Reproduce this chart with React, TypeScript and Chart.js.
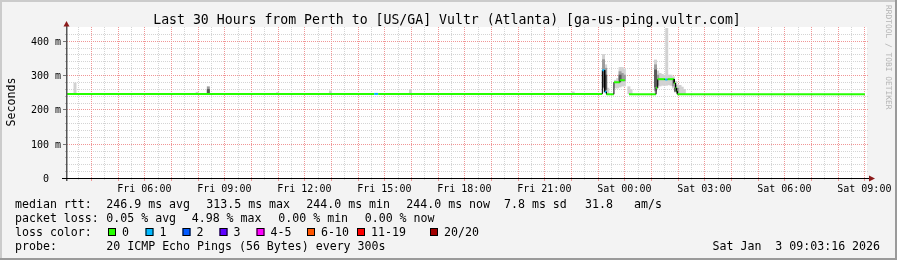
import React, { useEffect, useRef } from 'react';
import { Chart, registerables } from 'chart.js';

Chart.register(...registerables);

const FONT = '"DejaVu Sans Mono", "Liberation Mono", monospace';

const TITLE = 'Last 30 Hours from Perth to [US/GA] Vultr (Atlanta) [ga-us-ping.vultr.com]';
const Y_TITLE = 'Seconds';
const SIDE_TEXT = 'RRDTOOL / TOBI OETIKER';
const TIMESTAMP = 'Sat Jan  3 09:03:16 2026';

// time axis in hours since Fri 00:00
const X_START = 3.1;
const X_END = 33.1;
const Y_MIN = 0;
const Y_MAX = 440;

const xLabelHours = [6, 9, 12, 15, 18, 21, 24, 27, 30, 33];
const xLabelTexts = ['Fri 06:00', 'Fri 09:00', 'Fri 12:00', 'Fri 15:00', 'Fri 18:00', 'Fri 21:00', 'Sat 00:00', 'Sat 03:00', 'Sat 06:00', 'Sat 09:00'];
const yTickValues = [0, 20, 40, 60, 80, 100, 120, 140, 160, 180, 200, 220, 240, 260, 280, 300, 320, 340, 360, 380, 400, 420, 440];
const yLabelValues = [0, 100, 200, 300, 400];
const yLabelTexts = ['0  ', '100 m', '200 m', '300 m', '400 m'];

// median RTT (ms) as steps: each step lasts until the next start
const medianStart = [3.10, 14.62, 14.77, 23.175, 23.265, 23.33, 23.61, 23.84, 24.02, 24.175, 25.19, 25.25, 25.53, 25.62, 25.87, 25.92, 25.96, 25.99];
const medianValue: (number | null)[] = [245, 245, 245, 314, 251, 244, 279, 285, null, 244, 263, 288, 287, 288, 276, 262, 252, 244];
const medianLoss = [0, 1, 0, 1, 1, 0, 0, 0, 0, 0, 0, 0, 1, 0, 0, 0, 0, 0];
const medianEnd = 33.02;

// smoke (ping spread) in three shades
const lightT = [3.40, 7.98, 11.00, 12.98, 15.98, 22.08, 23.22, 23.30, 23.38, 23.67, 23.75, 23.84, 23.92, 24.00, 24.17, 24.25, 25.17, 25.25, 25.34, 25.42, 25.50, 25.59, 25.67, 25.75, 25.84, 25.92, 26.00, 26.09, 26.17, 26.25];
const lightLo = [246, 246, 246, 246, 246, 246, 250, 248, 244, 262, 262, 265, 268, 268, 245, 245, 250, 262, 268, 270, 270, 270, 272, 270, 262, 250, 246, 246, 246, 246];
const lightHi = [277, 250, 249, 254, 258, 251, 360, 330, 262, 285, 290, 322, 322, 318, 266, 258, 344, 312, 305, 302, 300, 436, 300, 300, 295, 282, 272, 270, 265, 258];

const midT = [8.40, 23.22, 23.30, 23.84, 23.92, 24.00, 25.17, 25.25, 25.84, 25.92, 26.00];
const midLo = [246, 262, 255, 280, 283, 283, 255, 270, 268, 252, 248];
const midHi = [266, 345, 320, 310, 305, 300, 330, 300, 285, 270, 262];

const darkT = [8.40, 23.22, 23.30, 23.84, 25.17, 25.92];
const darkLo = [246, 265, 258, 285, 265, 253];
const darkHi = [258, 314, 300, 300, 315, 262];

const lossColors = ['#26ff00', '#00b8ff', '#0059ff', '#5e00ff', '#ff00ff', '#ff5500', '#ff0000', '#a10000'];
const lossLabels = ['0', '1', '2', '3', '4-5', '6-10', '11-19', '20/20'];

const legendRow1: [string, number][] = [['median rtt:', 15], ['246.9 ms avg', 106.3], ['313.5 ms max', 206.3], ['244.0 ms min', 306.3], ['244.0 ms now', 406.3], ['7.8 ms sd', 504], ['31.8', 585], ['am/s', 634]];
const legendRow2: [string, number][] = [['packet loss:', 15], ['0.05 % avg', 106.3], ['4.98 % max', 191.7], ['0.00 % min', 278.3], ['0.00 % now', 364.7]];
const legendRow4: [string, number][] = [['probe:', 15], ['20 ICMP Echo Pings (56 Bytes) every 300s', 106.3], [TIMESTAMP, 712.5]];
const lossBoxX = [108, 145.5, 182.5, 219.5, 256.5, 307, 357, 430];

// ---- derived structures ----
const xGridHours: number[] = [];
for (let k = 0; k < 60; k++) xGridHours.push(3.5 + k * 0.5);

const medPts: { x: number; y: number | null }[] = [];
const medPtLoss: number[] = [];
for (let i = 0; i < medianStart.length; i++) {
  const t0 = medianStart[i];
  const t1 = i + 1 < medianStart.length ? medianStart[i + 1] : medianEnd;
  const v = medianValue[i];
  if (v === null) {
    medPts.push({ x: t0, y: null });
    medPtLoss.push(0);
    continue;
  }
  medPts.push({ x: t0, y: v }, { x: t1, y: v });
  medPtLoss.push(medianLoss[i], medianLoss[i]);
}

const bars = (t: number[], lo: number[], hi: number[]) => t.map((x, i) => ({ x, y: [lo[i], hi[i]] }));

const isHour = (v: number) => Math.abs(v - Math.round(v)) < 1e-6;
const RED = 'rgb(240,150,150)';
const GRAY = 'rgb(212,212,212)';

const framePlugin = {
  id: 'rrdFrame',
  beforeDraw(chart: any) {
    const { ctx, chartArea: a } = chart;
    ctx.save();
    ctx.fillStyle = '#f3f3f3';
    ctx.fillRect(0, 0, 897, 260);
    ctx.fillStyle = '#cbcbcb';
    ctx.fillRect(0, 0, 897, 2);
    ctx.fillRect(0, 0, 2, 260);
    ctx.fillStyle = '#9a9a9a';
    ctx.fillRect(0, 258, 897, 2);
    ctx.fillRect(895, 0, 2, 260);
    ctx.fillStyle = '#ffffff';
    ctx.fillRect(a.left, a.top, a.right - a.left, a.bottom - a.top);
    ctx.restore();
  },
  beforeDatasetsDraw(chart: any) {
    const { ctx, chartArea: a, scales } = chart;
    const xs = scales.x;
    const ys = scales.y;
    ctx.save();
    ctx.lineWidth = 1;
    const hLines = (major: boolean) => {
      yTickValues.forEach((v) => {
        if (v === 0 || v >= Y_MAX) return;
        if ((v % 100 === 0) !== major) return;
        const py = Math.round(ys.getPixelForValue(v)) + 0.5;
        ctx.strokeStyle = major ? RED : GRAY;
        ctx.setLineDash([1, 1]);
        ctx.beginPath();
        ctx.moveTo(a.left, py);
        ctx.lineTo(a.right + 1, py);
        ctx.stroke();
        ctx.setLineDash([]);
        ctx.strokeStyle = major ? '#777777' : '#b8b8b8';
        ctx.beginPath();
        ctx.moveTo(a.left - (major ? 4 : 2), py);
        ctx.lineTo(a.left, py);
        ctx.stroke();
      });
    };
    const vLines = (major: boolean) => {
      xGridHours.forEach((h) => {
        if (isHour(h) !== major) return;
        const px = Math.round(xs.getPixelForValue(h)) + 0.5;
        ctx.strokeStyle = major ? RED : GRAY;
        ctx.setLineDash([1, 1]);
        ctx.beginPath();
        ctx.moveTo(px, a.top);
        ctx.lineTo(px, a.bottom);
        ctx.stroke();
        ctx.setLineDash([]);
        ctx.beginPath();
        ctx.moveTo(px, a.bottom + 1);
        ctx.lineTo(px, a.bottom + (major ? 3 : 2));
        ctx.stroke();
      });
    };
    hLines(false);
    vLines(false);
    hLines(true);
    vLines(true);
    ctx.restore();
  },
  afterDraw(chart: any) {
    const { ctx, chartArea: a, scales } = chart;
    const xs = scales.x;
    const ys = scales.y;
    ctx.save();
    // axes
    ctx.fillStyle = '#555555';
    ctx.fillRect(a.left - 1, 25, 1.5, a.bottom - 25 + 3);
    ctx.fillStyle = '#000000';
    ctx.fillRect(62, a.bottom, 808, 1);
    ctx.fillStyle = '#8b1a1a';
    ctx.beginPath();
    ctx.moveTo(a.left - 3.5, 26.5);
    ctx.lineTo(a.left + 2.5, 26.5);
    ctx.lineTo(a.left - 0.5, 21);
    ctx.closePath();
    ctx.fill();
    ctx.beginPath();
    ctx.moveTo(869, a.bottom - 2.5);
    ctx.lineTo(869, a.bottom + 3.5);
    ctx.lineTo(875, a.bottom + 0.5);
    ctx.closePath();
    ctx.fill();

    // axis labels (positions from the chart scales)
    ctx.fillStyle = '#000';
    ctx.font = `10px ${FONT}`;
    ctx.textAlign = 'center';
    ctx.textBaseline = 'alphabetic';
    xLabelHours.forEach((h, i) => ctx.fillText(xLabelTexts[i], xs.getPixelForValue(h), 191.5));
    ctx.textAlign = 'right';
    yLabelValues.forEach((v, i) => ctx.fillText(yLabelTexts[i], a.left - 6, Math.round(ys.getPixelForValue(v)) + 4));

    // title
    ctx.font = `13.2px ${FONT}`;
    ctx.textAlign = 'center';
    ctx.fillText(TITLE, 447, 24);

    // y title
    ctx.save();
    ctx.font = `11.6px ${FONT}`;
    ctx.translate(15, 102);
    ctx.rotate(-Math.PI / 2);
    ctx.textAlign = 'center';
    ctx.fillText(Y_TITLE, 0, 0);
    ctx.restore();

    // side text
    ctx.save();
    ctx.font = `7.9px ${FONT}`;
    ctx.fillStyle = '#b4b4b4';
    ctx.translate(885.5, 5);
    ctx.rotate(Math.PI / 2);
    ctx.textAlign = 'left';
    ctx.fillText(SIDE_TEXT, 0, 0);
    ctx.restore();

    // legend
    ctx.font = `11.6px ${FONT}`;
    ctx.textAlign = 'left';
    ctx.fillStyle = '#000';
    legendRow1.forEach(([s, x]) => ctx.fillText(s, x, 208.3));
    legendRow2.forEach(([s, x]) => ctx.fillText(s, x, 222.3));
    ctx.fillText('loss color:', 15, 236.3);
    lossBoxX.forEach((bx, i) => {
      ctx.fillStyle = lossColors[i];
      ctx.fillRect(bx, 228, 8, 8);
      ctx.strokeStyle = '#000';
      ctx.lineWidth = 1;
      ctx.strokeRect(bx + 0.5, 228.5, 7, 7);
      ctx.fillStyle = '#000';
      ctx.fillText(lossLabels[i], bx + 14, 236.3);
    });
    legendRow4.forEach(([s, x]) => ctx.fillText(s, x, 250.3));
    ctx.restore();
  },
};

export default function App() {
  const ref = useRef<HTMLCanvasElement>(null);
  useEffect(() => {
    const cfg: any = {
      type: 'bar',
      data: {
        datasets: [
          {
            type: 'line',
            data: medPts,
            borderColor: lossColors[0],
            borderWidth: 2,
            pointRadius: 0,
            spanGaps: false,
            tension: 0,
            order: 0,
            segment: {
              borderColor: (c: any) =>
                Math.abs(c.p0.x - c.p1.x) < 0.01 ? '#000000' : lossColors[medPtLoss[c.p0DataIndex]],
              borderWidth: (c: any) => (Math.abs(c.p0.x - c.p1.x) < 0.01 ? 1 : 2),
            },
          },
          { type: 'bar', data: bars(darkT, darkLo, darkHi), backgroundColor: '#5a5a5a', barThickness: 2.3, grouped: false, borderWidth: 0, order: 1 },
          { type: 'bar', data: bars(midT, midLo, midHi), backgroundColor: '#9c9c9c', barThickness: 2.3, grouped: false, borderWidth: 0, order: 2 },
          { type: 'bar', data: bars(lightT, lightLo, lightHi), backgroundColor: '#d2d2d2', barThickness: 2.3, grouped: false, borderWidth: 0, order: 3 },
        ],
      },
      options: {
        responsive: false,
        animation: false,
        events: [],
        layout: { padding: { left: 0, top: 27, right: 30, bottom: 0 } },
        plugins: { legend: { display: false }, tooltip: { enabled: false }, title: { display: false } },
        scales: {
          x: {
            type: 'linear',
            min: X_START,
            max: X_END,
            offset: false,
            afterBuildTicks: (s: any) => {
              s.ticks = xGridHours.map((v) => ({ value: v }));
            },
            afterFit: (s: any) => {
              s.height = 82;
            },
            ticks: { display: false },
            grid: { display: false },
            border: { display: false },
          },
          y: {
            type: 'linear',
            min: Y_MIN,
            max: Y_MAX,
            afterBuildTicks: (s: any) => {
              s.ticks = yTickValues.map((v) => ({ value: v }));
            },
            afterFit: (s: any) => {
              s.width = 67;
            },
            ticks: { display: false },
            grid: { display: false },
            border: { display: false },
          },
        },
      },
      plugins: [framePlugin],
    };
    const chart = new Chart(ref.current as HTMLCanvasElement, cfg);
    return () => chart.destroy();
  }, []);
  return (
    <div style={{ position: 'absolute', left: 0, top: 0, width: 897, height: 260 }}>
      <canvas ref={ref} width={897} height={260} style={{ display: 'block', width: 897, height: 260 }} />
    </div>
  );
}
